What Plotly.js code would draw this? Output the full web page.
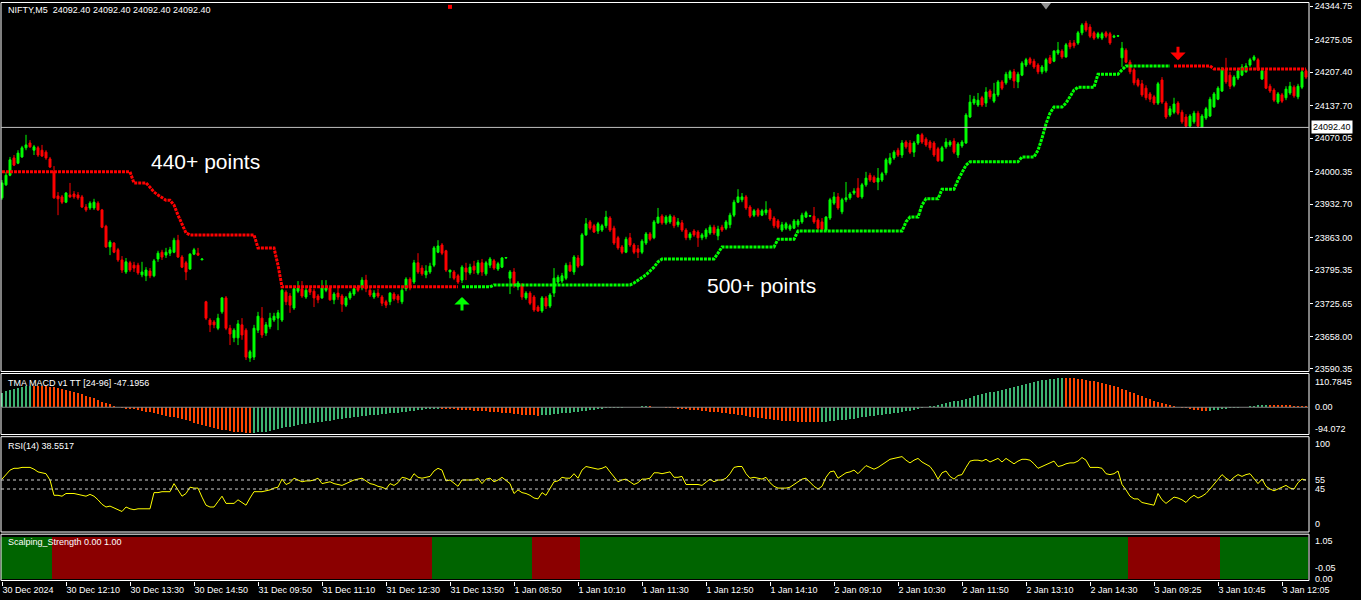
<!DOCTYPE html>
<html><head><meta charset="utf-8">
<script src="https://cdn.plot.ly/plotly-3.0.1.min.js"></script>
<style>html,body{margin:0;padding:0;background:#000;overflow:hidden}#chart{width:1361px;height:600px}</style>
</head><body><div id="chart"></div>
<script>
// ---------------- DATA ----------------
const symbolTitle = 'NIFTY,M5\u00a0\u00a024092.40 24092.40 24092.40 24092.40';
const lastPrice = 24092.40;
const timeLabels = ['30 Dec 2024','30 Dec 12:10','30 Dec 13:30','30 Dec 14:50','31 Dec 09:50','31 Dec 11:10','31 Dec 12:30','31 Dec 13:50','1 Jan 08:50','1 Jan 10:10','1 Jan 11:30','1 Jan 12:50','1 Jan 14:10','2 Jan 09:10','2 Jan 10:30','2 Jan 11:50','2 Jan 13:10','2 Jan 14:30','3 Jan 09:25','3 Jan 10:45','3 Jan 12:05'];
const barsPerLabel = 16;
const priceTicks = [24344.75,24275.05,24207.40,24137.70,24070.05,24000.35,23932.70,23863.00,23795.35,23725.65,23658.00,23590.35];

const open = [
23946,23973,23993,24029,24018,24031,24050,24060,24045,24050,
24045,24041,24027,24000,23950,23948,23937,23952,23954,23952,
23948,23927,23925,23925,23935,23921,23887,23844,23852,23838,
23817,23792,23811,23806,23806,23786,23784,23794,23784,23819,
23833,23827,23831,23833,23858,23823,23811,23798,23829,23831,
23817,23730,23692,23688,23675,23709,23738,23675,23655,23655,
23682,23671,23613,23615,23671,23696,23665,23678,23692,23696,
23692,23750,23742,23717,23752,23757,23740,23757,23752,23742,
23738,23754,23759,23734,23748,23742,23723,23738,23746,23761,
23759,23775,23754,23740,23748,23740,23730,23730,23746,23742,
23730,23757,23777,23771,23811,23800,23786,23792,23806,23833,
23848,23836,23792,23792,23784,23775,23800,23790,23804,23790,
23811,23788,23806,23815,23798,23802,23821,23779,23792,23761,
23765,23738,23748,23740,23719,23711,23738,23721,23748,23771,
23773,23779,23806,23792,23821,23806,23869,23896,23888,23877,
23879,23888,23904,23883,23863,23844,23833,23863,23848,23840,
23833,23852,23871,23863,23894,23908,23894,23896,23906,23890,
23894,23879,23863,23877,23875,23863,23865,23873,23885,23867,
23885,23883,23890,23910,23937,23942,23948,23927,23910,23921,
23910,23915,23921,23904,23898,23879,23883,23881,23883,23890,
23896,23906,23908,23908,23900,23896,23879,23904,23935,23948,
23917,23942,23946,23956,23966,23948,23973,23993,23989,23979,
23983,23998,24018,24029,24045,24035,24062,24060,24041,24060,
24077,24068,24062,24060,24048,24023,24052,24056,24064,24035,
24054,24060,24114,24143,24139,24154,24143,24168,24147,24160,
24187,24185,24195,24208,24187,24201,24222,24235,24230,24222,
24208,24210,24237,24230,24247,24251,24239,24268,24268,24268,
24289,24309,24301,24289,24280,24278,24289,24287,24280,24282,
24237,24253,24228,24212,24191,24183,24174,24162,24156,24143,
24191,24143,24118,24124,24143,24124,24114,24095,24104,24122,
24093,24112,24116,24135,24151,24168,24214,24201,24180,24195,
24201,24208,24222,24233,24233,24193,24210,24178,24170,24145,
24160,24154,24164,24176,24156,24176,24210];
const high = [
23983,24000,24031,24035,24045,24054,24077,24066,24056,24054,
24056,24045,24031,24012,23958,23952,23958,23977,23960,23958,
23952,23933,23939,23944,23939,23923,23890,23858,23854,23842,
23825,23821,23815,23813,23811,23813,23802,23800,23819,23836,
23838,23842,23844,23863,23869,23827,23815,23831,23842,23842,
23819,23732,23696,23692,23705,23740,23742,23682,23675,23692,
23696,23675,23630,23682,23709,23719,23688,23707,23707,23713,
23757,23754,23748,23759,23773,23773,23759,23761,23757,23746,
23775,23775,23761,23750,23759,23746,23742,23752,23763,23765,
23781,23786,23759,23754,23757,23744,23734,23750,23750,23746,
23759,23781,23781,23817,23831,23806,23806,23811,23846,23858,
23852,23838,23796,23796,23788,23806,23811,23809,23815,23817,
23819,23815,23823,23819,23813,23823,23823,23796,23800,23773,
23769,23752,23752,23744,23723,23742,23742,23748,23800,23786,
23790,23811,23813,23827,23827,23873,23904,23900,23892,23896,
23892,23919,23908,23888,23867,23848,23865,23873,23852,23848,
23860,23875,23875,23900,23925,23912,23910,23912,23910,23904,
23900,23883,23875,23881,23879,23873,23883,23890,23890,23888,
23890,23900,23915,23942,23964,23956,23952,23931,23923,23925,
23923,23939,23925,23908,23902,23896,23896,23892,23902,23902,
23915,23919,23910,23927,23904,23904,23908,23946,23958,23956,
23946,23979,23958,23966,23987,23977,24000,23998,23993,24008,
24000,24029,24039,24045,24050,24066,24066,24066,24064,24079,
24081,24072,24066,24064,24052,24054,24070,24066,24070,24062,
24066,24122,24160,24158,24164,24158,24176,24172,24185,24191,
24191,24208,24212,24214,24208,24230,24237,24239,24235,24226,
24222,24237,24243,24253,24270,24255,24268,24274,24274,24293,
24309,24314,24307,24293,24291,24291,24293,24291,24285,24283,
24270,24257,24233,24216,24195,24191,24180,24166,24160,24187,
24197,24147,24137,24154,24147,24129,24120,24120,24127,24127,
24120,24135,24156,24166,24178,24218,24237,24208,24201,24216,
24224,24226,24237,24243,24237,24214,24214,24183,24174,24166,
24164,24178,24187,24180,24183,24212,24214];
const low = [
23942,23971,23991,24012,24016,24029,24045,24050,24035,24031,
24031,24025,24008,23944,23910,23933,23935,23946,23944,23942,
23925,23917,23921,23921,23919,23883,23842,23827,23831,23813,
23790,23788,23792,23792,23786,23781,23773,23779,23781,23813,
23817,23821,23825,23831,23821,23800,23775,23796,23827,23825,
23817,23692,23667,23675,23671,23705,23671,23640,23646,23640,
23651,23609,23605,23609,23665,23655,23659,23673,23688,23671,
23688,23723,23707,23713,23748,23738,23736,23744,23719,23727,
23736,23750,23732,23725,23734,23709,23719,23734,23742,23750,
23754,23750,23740,23736,23738,23721,23717,23723,23732,23727,
23725,23752,23754,23767,23788,23784,23779,23788,23802,23831,
23827,23792,23779,23775,23767,23769,23775,23786,23788,23786,
23784,23784,23800,23796,23794,23800,23819,23746,23759,23754,
23734,23734,23723,23709,23709,23707,23715,23717,23740,23767,
23769,23775,23792,23786,23800,23804,23867,23879,23873,23871,
23875,23883,23875,23848,23838,23829,23831,23844,23829,23821,
23829,23848,23856,23860,23892,23890,23890,23892,23883,23885,
23875,23858,23858,23865,23844,23858,23860,23869,23869,23858,
23875,23879,23883,23906,23935,23937,23921,23904,23906,23906,
23908,23910,23898,23883,23881,23875,23879,23877,23881,23885,
23892,23904,23906,23892,23879,23877,23877,23900,23931,23921,
23912,23937,23942,23952,23946,23944,23969,23979,23977,23962,
23979,23993,24014,24025,24031,24029,24048,24037,24031,24056,
24058,24052,24045,24031,24021,24021,24048,24052,24037,24029,
24050,24058,24112,24139,24135,24135,24135,24151,24143,24156,
24170,24181,24191,24174,24174,24199,24218,24222,24214,24203,
24203,24206,24224,24228,24243,24235,24237,24255,24257,24264,
24284,24291,24278,24274,24276,24274,24278,24264,24278,24281,
24218,24226,24203,24180,24176,24156,24149,24145,24139,24139,
24141,24110,24114,24120,24118,24100,24093,24093,24100,24093,
24091,24108,24114,24133,24149,24166,24183,24172,24176,24191,
24199,24206,24218,24230,24210,24191,24172,24164,24145,24141,
24143,24149,24160,24154,24151,24172,24193];
const close = [
23977,23993,24025,24014,24039,24050,24056,24052,24052,24035,
24033,24029,24010,23946,23944,23937,23956,23948,23948,23946,
23927,23921,23935,23937,23921,23885,23844,23854,23833,23817,
23796,23813,23796,23800,23790,23792,23796,23784,23815,23831,
23823,23833,23838,23858,23823,23802,23792,23829,23838,23827,
23819,23696,23682,23682,23696,23738,23675,23663,23671,23684,
23661,23615,23626,23675,23700,23661,23682,23696,23700,23707,
23754,23730,23723,23757,23759,23742,23754,23750,23738,23734,
23759,23759,23734,23746,23740,23725,23738,23748,23757,23754,
23775,23757,23744,23748,23742,23727,23723,23748,23736,23734,
23754,23777,23759,23811,23792,23788,23794,23804,23842,23846,
23831,23796,23796,23779,23771,23802,23792,23802,23796,23811,
23792,23811,23819,23800,23809,23821,23822,23792,23765,23769,
23740,23748,23727,23713,23711,23738,23721,23744,23779,23781,
23784,23806,23794,23823,23804,23869,23892,23883,23875,23892,
23888,23906,23879,23852,23842,23833,23860,23848,23833,23833,
23856,23871,23860,23896,23906,23894,23906,23908,23888,23896,
23879,23863,23871,23869,23863,23869,23879,23885,23873,23881,
23879,23896,23910,23937,23948,23948,23925,23908,23919,23910,
23919,23921,23902,23888,23885,23890,23892,23888,23898,23898,
23910,23915,23909,23896,23883,23881,23906,23942,23948,23925,
23942,23946,23954,23960,23948,23973,23987,23983,23979,23987,
23996,24025,24029,24041,24035,24060,24052,24041,24060,24077,
24062,24056,24050,24035,24023,24050,24062,24062,24041,24058,
24062,24118,24145,24151,24149,24139,24166,24156,24162,24187,
24174,24203,24208,24189,24203,24226,24233,24226,24218,24208,
24218,24233,24226,24251,24253,24239,24264,24260,24262,24289,
24305,24295,24282,24278,24287,24287,24282,24268,24282,24283,
24257,24228,24208,24185,24180,24160,24154,24151,24143,24183,
24145,24114,24131,24141,24122,24104,24095,24116,24122,24095,
24116,24131,24151,24162,24174,24214,24187,24178,24197,24210,
24218,24220,24233,24239,24212,24210,24174,24168,24149,24162,
24147,24172,24178,24158,24178,24208,24197];

// trailing-stop line of the trend indicator, one value per bar
const trendStop = [
24000,24000,24000,24000,24000,24000,24000,24000,24000,24000,
24000,24000,24000,24000,24000,24000,24000,24000,24000,24000,
24000,24000,24000,24000,24000,24000,24000,24000,24000,24000,
24000,24000,24000,23977,23977,23977,23977,23968,23958,23952,
23946,23941,23941,23931,23910,23890,23873,23869,23869,23869,
23869,23869,23869,23869,23869,23869,23869,23869,23869,23869,
23869,23869,23869,23869,23842,23842,23842,23842,23842,23806,
23761,23761,23761,23761,23761,23761,23761,23761,23761,23761,
23761,23761,23761,23761,23761,23761,23761,23761,23761,23761,
23761,23761,23761,23761,23761,23761,23761,23761,23761,23761,
23761,23761,23761,23761,23761,23761,23761,23761,23761,23761,
23761,23761,23761,23761,23761,23761,23761,23761,23761,23761,
23761,23761,23761,23765,23765,23765,23765,23765,23765,23765,
23765,23765,23765,23765,23765,23765,23765,23765,23765,23765,
23765,23765,23765,23765,23765,23765,23765,23765,23765,23765,
23765,23765,23765,23765,23765,23765,23765,23765,23769,23775,
23781,23786,23794,23802,23813,23819,23819,23819,23819,23819,
23819,23819,23819,23819,23819,23819,23819,23819,23819,23831,
23844,23844,23844,23844,23844,23844,23844,23844,23844,23844,
23844,23844,23844,23844,23860,23860,23860,23860,23860,23877,
23877,23877,23877,23877,23877,23877,23877,23877,23877,23877,
23877,23877,23877,23877,23877,23877,23877,23877,23877,23877,
23877,23877,23877,23877,23877,23877,23896,23906,23906,23906,
23931,23944,23944,23944,23944,23964,23964,23964,23964,23983,
24000,24014,24021,24021,24021,24021,24021,24021,24021,24021,
24021,24021,24021,24021,24021,24031,24031,24031,24031,24045,
24070,24100,24122,24135,24135,24135,24143,24156,24170,24176,
24176,24176,24176,24176,24203,24203,24203,24203,24203,24203,
24212,24220,24220,24220,24220,24220,24220,24220,24220,24220,
24220,24220,24220,24220,24220,24220,24220,24220,24220,24220,
24220,24220,24220,24214,24214,24214,24214,24214,24214,24214,
24214,24214,24214,24214,24214,24214,24214,24214,24214,24214,
24214,24214,24214,24214,24214,24214,24214];
const trendStarts = [0, 115, 293];
const trendDirs = ['down', 'up', 'down'];
const signalBars = [115, 294];
const signalPrices = [23740, 24232];
const signalTypes = ['buy', 'sell'];

const macd = [
51.6,55.8,59.3,62.9,66.4,70.0,73.5,76.8,
76.5,76.0,75.2,74.1,72.9,70.5,68.2,65.8,61.1,57.6,54.0,50.5,45.8,41.1,37.5,31.7,25.8,19.9,15.2,10.5,5.8,2.2,
-3.0,-4.5,-6.0,-7.5,-10,-12.5,-15,-18,-21,-24,-27,-30,-33,-36,-39,-42,-46,-50,-54,-58,-62,-66,-70,-74,-77.7,-80,-82,-84,-86.1,-87.5,-88.5,-89.2,-89.6,
-89.4,-88.8,-88,-87.2,-84,-81,-77.5,-74.3,-71,-68,-65,-62.5,-60,-58,-56,-54.5,-53,-51,-49,-47,-44.9,-42.8,-40.7,-38.6,-36.6,-34.8,-33,-31.2,-29.5,-28.3,-27.1,-25.9,-24.8,-23.4,-22,-20.5,-19,-17.7,-15.6,-13.6,-11.5,-9.5,-8.6,-7.7,-6.8,-6,-5.5,
-5.8,-6.2,-6.6,-7.2,-8,-8.7,-9.5,-10.5,-11.5,-12.2,-13,-14,-15.5,-16.5,-18,-19,-20.5,-22,-23.5,-24.8,-26,-27,-28,-29,-29.5,
-29,-27.5,-26,-25,-23.7,-22,-20.5,-19,-17.7,-15.5,-13.5,-11.5,-9.5,-8,-6.5,-5,-3.5,-2.5,-2,-1.5,-1,-0.8,-0.5,-0.3,2,3,3.2,
3.0,2.5,2,0.5,-1,-2,-3.5,-5,-6,-7,-8.5,-10,-11,-12,-13.5,-15,-16.5,-17.7,-19.5,-21,-23,-24.8,-27,-29,-31,-33,-35,-37,-38.5,-40,-42,-44,-45.5,-47,-48,-49,-50,-50.5,-51,-51.5,-51.8,-52,-52.2,
-52,-50.5,-49,-47,-46,-45,-43.5,-42.4,-40,-38,-35.5,-33,-31.5,-30,-28.5,-27,-25,-23,-21,-18.8,-15.3,-13.5,-11.5,-9.5,-6.5,-3.5,
1,2.8,4.6,7.8,11,14.3,17.7,20.6,23.5,26.4,29.3,33.7,38.2,42.6,47,49.8,52.6,55.4,58.2,61.1,65,68.8,72.6,76.4,80,83.5,87,90.5,93,95.5,98,100,101.5,103,104.6,
104.4,103.8,102.5,101.3,100,97,94,91,88.2,84.7,81.2,77.7,74.1,70.6,65.3,60,54.7,49.4,44.1,38.8,33.5,28.2,23.8,19.4,15,10.6,7.6,4.6,2,-2,-4,-6,-8,-10,-12,-13,
-12,-10.5,-9,-7.5,-6,-4,-2.5,-1,0.5,2,4,5.5,6.5,7.5,8.2,
8,7.9,7.6,7.3,7,6.5,5.8,5.2,4.6,4];
const macdTicks = ['110.7845', '0.00', '-94.072'];

const rsi = [
56,61,66,68,68,69,69,69,67,64, 63,62,55,38,38,37,40,40,40,39,
38,37,39,37,33,28,25,26,24,22, 20,25,23,22,23,23,23,23,41,41,
42,42,42,51,44,37,40,47,46,46, 36,27,25,25,31,37,29,29,29,33,
30,27,35,42,42,42,43,44,46,47, 56,50,52,57,55,53,54,54,55,57,
51,52,53,51,50,49,51,53,55,56, 57,54,51,50,48,47,45,51,49,52,
58,57,55,62,58,57,58,59,65,68, 66,54,55,52,48,55,55,55,55,57,
51,56,57,53,55,58,55,51,40,44, 41,40,38,35,34,41,38,45,53,54,
58,57,57,62,57,66,70,69,68,67, 68,70,64,58,53,55,56,53,50,52,
56,56,57,63,63,62,63,64,58,58, 59,50,50,50,50,49,52,56,53,55,
55,57,62,69,70,70,62,57,58,57, 56,58,52,48,46,46,46,47,50,53,
56,57,52,48,45,48,58,64,65,57, 60,63,64,66,62,66,71,69,67,69,
72,75,78,79,80,81,77,74,77,79, 75,72,70,64,56,63,65,59,56,60,
61,69,76,77,77,76,78,75,77,79, 75,79,76,73,76,78,78,77,73,68,
70,72,74,76,70,71,73,74,74,76, 80,77,69,69,69,68,62,61,62,65,
50,44,37,34,34,30,29,28,27,40, 33,29,32,36,35,33,30,35,38,35,
37,40,45,50,56,61,57,54,58,61, 59,61,62,57,51,56,48,45,43,45,
47,49,46,45,52,56,55];
const rsiLevels = [55, 45];
const rsiTicks = ['100', '55', '45', '0'];

const scalpStarts = [0, 13, 108, 133, 145, 282, 305];
const scalpStates = [1, 0, 1, 0, 1, 0, 1];
const scalpTicks = ['1.05', '-0.05', '0.00'];

// ---------------- BUILD ----------------
const N = close.length;
const bars = close.map((_, i) => i);
const FONT = 'Liberation Sans, Arial, sans-serif';
const W = 1361, H = 600, ML = 1, MR = 52, MT = 2, MB = 19;
const plotW = W - ML - MR, plotH = H - MT - MB;
const py = y => (H - MB - y) / plotH;
const px = x => (x - ML) / plotW;

function segValue(starts, vals, i) {
  let v = vals[0];
  for (let k = 0; k < starts.length; k++) if (i >= starts[k]) v = vals[k];
  return v;
}
const trendDir = bars.map(i => segValue(trendStarts, trendDirs, i));
const trendDown = trendStop.map((v, i) => trendDir[i] === 'down' ? v : null);
const trendUp = trendStop.map((v, i) => trendDir[i] === 'up' ? v : null);

const macdColors = macd.map((v, i) => (i === 0 || v >= macd[i - 1]) ? '#3CB371' : '#FF4500');
const scalpState = bars.map(i => segValue(scalpStarts, scalpStates, i));
const scalpColors = scalpState.map(s => s ? '#006400' : '#8B0000');

const traces = [
  {type: 'candlestick', x: bars, open, high, low, close, xaxis: 'x', yaxis: 'y',
   increasing: {line: {color: '#00FF00', width: 1}, fillcolor: '#00FF00'},
   decreasing: {line: {color: '#FF0000', width: 1}, fillcolor: '#FF0000'},
   whiskerwidth: 0, hoverinfo: 'skip', showlegend: false},
  {type: 'scatter', mode: 'lines', x: bars, y: trendDown, yaxis: 'y',
   line: {color: '#FF0000', width: 3, dash: '3px,1px'}, connectgaps: false, hoverinfo: 'skip'},
  {type: 'scatter', mode: 'lines', x: bars, y: trendUp, yaxis: 'y',
   line: {color: '#00FF00', width: 3, dash: '3px,1px'}, connectgaps: false, hoverinfo: 'skip'},
  {type: 'scatter', mode: 'markers', x: [112], y: [24343], yaxis: 'y', cliponaxis: false,
   marker: {symbol: 'square', size: 4, color: '#FF0000'}, hoverinfo: 'skip'},
  {type: 'scatter', mode: 'markers', x: [261], y: [24347], yaxis: 'y', cliponaxis: false,
   marker: {symbol: 'triangle-down', size: 9, color: '#909090'}, hoverinfo: 'skip'},
  {type: 'bar', x: bars, y: macd, yaxis: 'y2', width: 0.6,
   marker: {color: macdColors, line: {width: 0}}, hoverinfo: 'skip'},
  {type: 'scatter', mode: 'lines', x: bars, y: rsi, yaxis: 'y3',
   line: {color: '#FFFF00', width: 1}, hoverinfo: 'skip'},
  {type: 'bar', x: bars, y: scalpState.map(() => 1), yaxis: 'y4', width: 1,
   marker: {color: scalpColors, line: {width: 0}}, hoverinfo: 'skip'}
];

const white = '#FFFFFF';
const tf = {family: FONT, size: 9, color: white};
const frame = (top, bottom) => ({type: 'rect', xref: 'paper', yref: 'paper', x0: 0, x1: 1,
  y0: py(bottom), y1: py(top), line: {color: white, width: 1}, fillcolor: 'rgba(0,0,0,0)', layer: 'above'});

const shapes = [
  frame(2.5, 371.5), frame(373.5, 434.5), frame(436.7, 532), frame(534.2, 580.5),
  {type: 'line', xref: 'paper', yref: 'y', x0: 0, x1: 1, y0: lastPrice, y1: lastPrice, line: {color: '#C0C0C0', width: 1}},
  {type: 'line', xref: 'paper', yref: 'y2', x0: 0, x1: 1, y0: 0, y1: 0, line: {color: '#808080', width: 1}},
  ...rsiLevels.map(v => ({type: 'line', xref: 'paper', yref: 'y3', x0: 0, x1: 1, y0: v, y1: v,
    line: {color: '#D0D0D0', width: 1, dash: '3px,3px'}}))
];

const lab = (text, x, y, opts) => Object.assign({text, xref: 'paper', yref: 'paper', x: px(x), y: py(y),
  xanchor: 'left', yanchor: 'middle', showarrow: false, font: tf}, opts || {});
const rightLab = (text, y) => lab(text, 1313, y);

const annotations = [
  lab(symbolTitle, 6, 10),
  lab('TMA MACD v1 TT [24-96] -47.1956', 6, 383),
  lab('RSI(14) 38.5517', 6, 446),
  lab('Scalping_Strength 0.00 1.00', 6, 542),
  lab('440+ points', 205.5, 161, {xanchor: 'center', font: {family: FONT, size: 21, color: white}}),
  lab('500+ points', 761.5, 285, {xanchor: 'center', font: {family: FONT, size: 21, color: white}}),
  rightLab(macdTicks[0], 381.7), rightLab(macdTicks[1], 407.3), rightLab(macdTicks[2], 429),
  rightLab(rsiTicks[0], 444), rightLab(rsiTicks[1], 480), rightLab(rsiTicks[2], 489), rightLab(rsiTicks[3], 524),
  rightLab(scalpTicks[0], 541), rightLab(scalpTicks[1], 567.5), rightLab(scalpTicks[2], 578.5),
  {text: lastPrice.toFixed(2), xref: 'paper', yref: 'y', x: px(1311), y: lastPrice, xanchor: 'left', yanchor: 'middle',
   showarrow: false, bgcolor: white, borderpad: 1, font: {family: FONT, size: 9, color: '#000000'}},
  ...signalBars.map((b, k) => ({x: b, y: signalPrices[k], xref: 'x', yref: 'y', text: '', showarrow: true,
    ax: 0, ay: signalTypes[k] === 'buy' ? 15 : -15, arrowcolor: signalTypes[k] === 'buy' ? '#00FF00' : '#FF0000',
    arrowwidth: 3, arrowhead: 1, arrowsize: 0.85, standoff: 0}))
];

const baseAxis = {showgrid: false, zeroline: false, showline: false, fixedrange: true};
const layout = {
  width: W, height: H, margin: {l: ML, r: MR, t: MT, b: MB, pad: 0},
  paper_bgcolor: '#000000', plot_bgcolor: '#000000', showlegend: false, hovermode: false,
  bargap: 0, font: tf,
  xaxis: Object.assign({}, baseAxis, {domain: [0, 1], anchor: 'y4', range: [-0.25, 326.75],
    tickmode: 'array', tickvals: timeLabels.map((_, k) => k * barsPerLabel), ticktext: timeLabels,
    ticks: 'outside', ticklen: 4, tickcolor: white, tickfont: tf, ticklabelposition: 'outside right',
    rangeslider: {visible: false}}),
  yaxis: Object.assign({}, baseAxis, {domain: [py(371), py(3)], range: [23586.1, 24351.0], side: 'right', anchor: 'x',
    tickmode: 'array', tickvals: priceTicks, ticktext: priceTicks.map(v => v.toFixed(2)),
    ticks: 'outside', ticklen: 3, tickcolor: white, tickfont: tf}),
  yaxis2: Object.assign({}, baseAxis, {domain: [py(433.9), py(375.9)], range: [-94.072, 110.7845], anchor: 'x', showticklabels: false}),
  yaxis3: Object.assign({}, baseAxis, {domain: [py(529.5), py(439.5)], range: [0, 100], anchor: 'x', showticklabels: false}),
  yaxis4: Object.assign({}, baseAxis, {domain: [0, py(534.5)], range: [-0.05, 1.05], anchor: 'x', showticklabels: false}),
  shapes, annotations
};

Plotly.newPlot('chart', traces, layout, {staticPlot: true, displayModeBar: false});
</script>
</body></html>
